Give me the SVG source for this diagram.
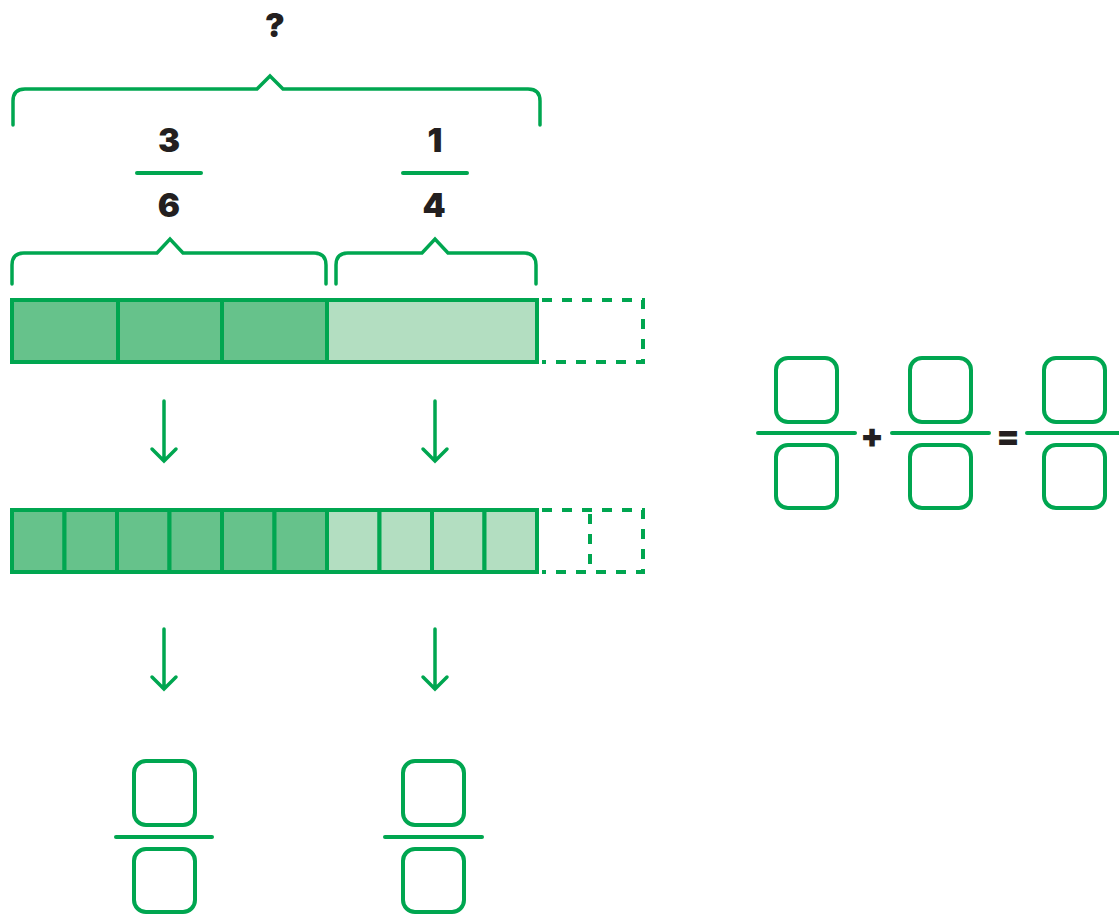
<svg xmlns="http://www.w3.org/2000/svg" width="1119" height="915" viewBox="0 0 1119 915">
<style>
.br{fill:none;stroke:#00A650;stroke-width:3.5;stroke-linecap:round;stroke-linejoin:miter}
.ln{stroke:#00A650;stroke-width:4;stroke-linecap:round}
.dk{fill:#66C28B;stroke:#00A650;stroke-width:4}
.lt{fill:#B3DEC1;stroke:#00A650;stroke-width:4}
.ds{fill:none;stroke:#00A650;stroke-width:4;stroke-dasharray:10 10}
.ar{fill:none;stroke:#00A650;stroke-width:3.5;stroke-linecap:round;stroke-linejoin:miter}
.t{font-family:"Inter","Lato","Liberation Sans",sans-serif;font-weight:900;font-size:33px;fill:#231F20;text-anchor:middle}
.op{font-family:"Inter","Lato","Liberation Sans",sans-serif;font-weight:900;font-size:34px;fill:#231F20;text-anchor:middle}
.ib{fill:none;stroke:#00A650;stroke-width:4}
</style>
<rect width="1119" height="915" fill="#fff"/>

<g id="total-label">
<text class="t" x="275" y="37">?</text>
</g>
<g id="brace-total">
<path class="br" d="M13 125 V101 Q13 89 25 89 H257 L270 76 L283 89 H528 Q540 89 540 101 V125"/>
</g>

<g id="frac-3-6">
<text class="t" x="169" y="152">3</text>
<line class="ln" x1="137" y1="173" x2="201" y2="173"/>
<text class="t" x="169" y="217">6</text>
</g>
<g id="frac-1-4">
<text class="t" x="435" y="152">1</text>
<line class="ln" x1="403" y1="173" x2="467" y2="173"/>
<text class="t" x="434" y="217">4</text>
</g>

<g id="brace-left">
<path class="br" d="M12 284 V265 Q12 253 24 253 H157 L170 239 L183 253 H314 Q326 253 326 265 V284"/>
</g>
<g id="brace-right">
<path class="br" d="M336 284 V265 Q336 253 348 253 H422 L435 239 L448 253 H524 Q536 253 536 265 V284"/>
</g>

<g id="bar-1">
<rect class="dk" x="12" y="300" width="106" height="62"/>
<rect class="dk" x="118" y="300" width="104" height="62"/>
<rect class="dk" x="222" y="300" width="105" height="62"/>
<rect class="lt" x="327" y="300" width="210" height="62"/>
<path class="ds" d="M542 300 H643 V362 H542"/>
</g>

<g id="bar-2">
<rect class="dk" x="12" y="510" width="52.5" height="62"/>
<rect class="dk" x="64.5" y="510" width="52.5" height="62"/>
<rect class="dk" x="117" y="510" width="52.5" height="62"/>
<rect class="dk" x="169.5" y="510" width="52.5" height="62"/>
<rect class="dk" x="222" y="510" width="52.5" height="62"/>
<rect class="dk" x="274.5" y="510" width="52.5" height="62"/>
<rect class="lt" x="327" y="510" width="52.5" height="62"/>
<rect class="lt" x="379.5" y="510" width="52.5" height="62"/>
<rect class="lt" x="432" y="510" width="52.5" height="62"/>
<rect class="lt" x="484.5" y="510" width="52.5" height="62"/>
<path class="ds" d="M542 510 H643 V572 H542"/>
<path class="ds" d="M590 514 V572"/>
</g>

<g id="connectors">
<path class="ar" d="M164 401 V461 M152 449 L164 461 L176 449"/>
<path class="ar" d="M435 401 V461 M423 449 L435 461 L447 449"/>
<path class="ar" d="M164 629 V689 M152 677 L164 689 L176 677"/>
<path class="ar" d="M435 629 V689 M423 677 L435 689 L447 677"/>
</g>

<g id="answer-left">
<rect class="ib" x="134" y="761" width="61" height="64" rx="12"/>
<line class="ln" x1="116" y1="837" x2="212" y2="837"/>
<rect class="ib" x="134" y="849" width="61" height="63" rx="12"/>
</g>
<g id="answer-right">
<rect class="ib" x="403" y="761" width="61" height="64" rx="12"/>
<line class="ln" x1="385" y1="837" x2="482" y2="837"/>
<rect class="ib" x="403" y="849" width="61" height="63" rx="12"/>
</g>

<g id="eq-frac-1">
<rect class="ib" x="776" y="358" width="61" height="64" rx="12"/>
<line class="ln" x1="758" y1="433" x2="855" y2="433"/>
<rect class="ib" x="776" y="445" width="61" height="63" rx="12"/>
</g>
<g id="eq-plus">
<text class="op" x="872" y="448">+</text>
</g>
<g id="eq-frac-2">
<rect class="ib" x="910" y="358" width="61" height="64" rx="12"/>
<line class="ln" x1="892" y1="433" x2="989" y2="433"/>
<rect class="ib" x="910" y="445" width="61" height="63" rx="12"/>
</g>
<g id="eq-equals">
<text class="op" x="1008" y="448">=</text>
</g>
<g id="eq-frac-3">
<rect class="ib" x="1044" y="358" width="61" height="64" rx="12"/>
<line class="ln" x1="1027" y1="433" x2="1122" y2="433"/>
<rect class="ib" x="1044" y="445" width="61" height="63" rx="12"/>
</g>
</svg>
